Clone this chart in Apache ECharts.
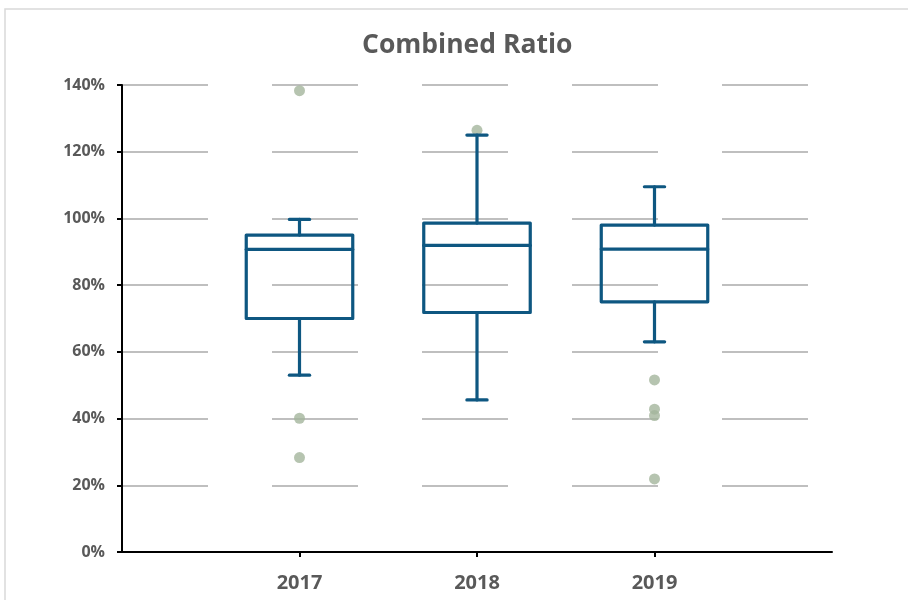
<!DOCTYPE html>
<html>
<head>
<meta charset="utf-8">
<script src="https://cdn.jsdelivr.net/npm/echarts@6/dist/echarts.min.js"></script>
<style>
  html, body { margin: 0; padding: 0; background: #fff; }
  #chart { width: 908px; height: 600px; }
</style>
</head>
<body>
<div id="chart"></div>
<script>
// categories (blank slots at both ends keep the years where they sit in the picture)
const years = ['', '2017', '2018', '2019', ''];

// box statistics per year (ratio, 1 = 100%)
const whiskerLow  = [0.53, 0.456, 0.63];
const quartile1   = [0.70, 0.718, 0.75];
const medians     = [0.907, 0.919, 0.908];
const quartile3   = [0.95, 0.986, 0.98];
const whiskerHigh = [0.997, 1.25, 1.095];

// outlier points
const outliers2017 = [1.383, 0.401, 0.283];
const outliers2018 = [1.264];
const outliers2019 = [0.516, 0.428, 0.409, 0.219];

const boxColor = '#0e5781';
const dotColor = '#a4b59c';
const textColor = '#595959';
const font = 'Open Sans';

const boxData = [];
for (let i = 0; i < 3; i++) {
  boxData.push([i + 1, whiskerLow[i], quartile1[i], medians[i], quartile3[i], whiskerHigh[i]]);
}

const dotData = [];
[outliers2017, outliers2018, outliers2019].forEach((list, i) => {
  list.forEach(v => dotData.push([i + 1, v]));
});

function renderBox(params, api) {
  const x = api.value(0);
  const pMin = api.coord([x, api.value(1)]);
  const pQ1 = api.coord([x, api.value(2)]);
  const pMed = api.coord([x, api.value(3)]);
  const pQ3 = api.coord([x, api.value(4)]);
  const pMax = api.coord([x, api.value(5)]);
  const band = api.size([1, 0])[0];
  const half = band * 0.3;
  const cap = band * 0.057;
  const cx = pMed[0];
  const lineStyle = { stroke: boxColor, lineWidth: 3.2, fill: null, lineCap: 'round', lineJoin: 'round' };
  const seg = (x1, y1, x2, y2) => ({ type: 'line', shape: { x1, y1, x2, y2 }, style: lineStyle });
  return {
    type: 'group',
    children: [
      { type: 'rect', shape: { x: cx - half, y: pQ3[1], width: half * 2, height: pQ1[1] - pQ3[1] }, style: lineStyle },
      seg(cx - half, pMed[1], cx + half, pMed[1]),
      seg(cx, pQ3[1], cx, pMax[1]),
      seg(cx - cap, pMax[1], cx + cap, pMax[1]),
      seg(cx, pQ1[1], cx, pMin[1]),
      seg(cx - cap, pMin[1], cx + cap, pMin[1])
    ]
  };
}

const chart = echarts.init(document.getElementById('chart'), null, { renderer: 'canvas' });

chart.setOption({
  backgroundColor: '#fff',
  animation: false,
  title: {
    text: 'Combined Ratio',
    left: 357,
    top: 27,
    textStyle: { fontFamily: font, fontSize: 26.5, fontWeight: 'bold', color: textColor }
  },
  graphic: [{
    type: 'rect',
    shape: { x: 5, y: 9, width: 960, height: 700 },
    style: { fill: null, stroke: '#d9d9d9', lineWidth: 1.5 },
    silent: true
  }],
  grid: { left: 122, right: 76, top: 85, bottom: 48 },
  xAxis: {
    type: 'category',
    data: years,
    boundaryGap: false,
    axisLine: { lineStyle: { color: '#000', width: 2 } },
    axisTick: {
      interval: (i) => i > 0 && i < years.length - 1,
      length: 5,
      lineStyle: { color: '#000', width: 2 }
    },
    axisLabel: {
      interval: (i) => i > 0 && i < years.length - 1,
      margin: 21,
      fontFamily: font, fontSize: 20, fontWeight: 'bold', color: textColor
    },
    splitLine: { show: false }
  },
  yAxis: {
    type: 'value',
    min: 0,
    max: 1.4,
    interval: 0.2,
    axisLine: { show: true, lineStyle: { color: '#000', width: 2 } },
    axisTick: { show: true, length: 5, lineStyle: { color: '#000', width: 2 } },
    axisLabel: {
      margin: 17,
      formatter: (v) => Math.round(v * 100) + '%',
      fontFamily: font, fontSize: 16, fontWeight: 'bold', color: textColor
    },
    splitLine: { show: true, lineStyle: { color: '#bfbfbf', width: 2, type: [86, 64] } }
  },
  series: [
    {
      type: 'scatter',
      data: dotData,
      symbol: 'circle',
      symbolSize: 11,
      itemStyle: { color: dotColor },
      z: 2
    },
    {
      type: 'custom',
      renderItem: renderBox,
      data: boxData,
      encode: { x: 0, y: [1, 2, 3, 4, 5] },
      z: 3
    }
  ]
});
</script>
</body>
</html>
